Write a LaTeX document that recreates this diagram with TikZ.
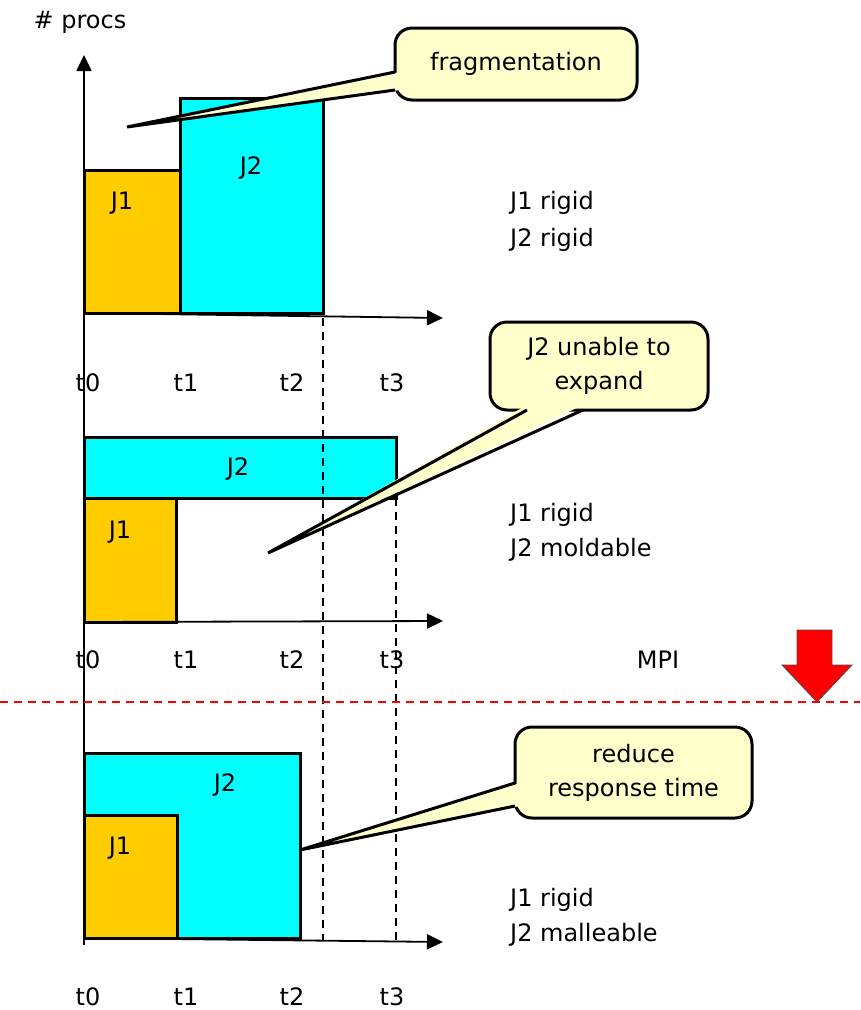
\documentclass[tikz,border=0pt]{standalone}
\usepackage{fontspec}
\setmainfont{DejaVu Sans}
\usetikzlibrary{arrows.meta,calc}
\definecolor{jone}{HTML}{FFCC00}
\definecolor{jtwo}{HTML}{00FFFF}
\definecolor{callfill}{HTML}{FFFFCC}
\begin{document}
\begin{tikzpicture}[x=1pt,y=-1pt,
  font=\fontsize{24}{34}\selectfont,
  jobA/.style={fill=jone,draw=black,line width=3pt},
  jobB/.style={fill=jtwo,draw=black,line width=3pt},
  axis/.style={line width=1.8pt,-{Triangle[length=16pt,width=15pt]}},
  guide/.style={dash pattern=on 8pt off 6pt,line width=1.8pt},
  mpiline/.style={draw=red,dash pattern=on 8pt off 6pt,line width=1.8pt},
  callbox/.style={draw=black,fill=callfill,line width=3pt,rounded corners=17pt,align=center,inner sep=0pt},
  pointer/.style={draw=black,line width=3pt,line join=miter},
  lbl/.style={inner sep=0pt},
  note/.style={anchor=west,inner sep=0pt}]
\useasboundingbox (0,0) rectangle (860,1010);

% ---------- panel 1 ----------
\draw[jobA] (84,170) rectangle (180,313);
\draw[jobB] (180,98) rectangle (323,313);
% ---------- panel 2 ----------
\draw[jobB] (84,437) rectangle (396,498);
\draw[jobA] (84,498) rectangle (176,622);
% ---------- panel 3 ----------
\draw[jobB] (84,753) rectangle (300,938);
\draw[jobA] (84,815) rectangle (177,938);

% guides
\draw[guide] (323,318) -- (323,940);
\draw[guide] (396,498) -- (396,940);

% axes
\coordinate (yb) at (84,945);
\coordinate (yt) at (84,55);
\draw[axis] (yb) -- (yt);
\coordinate (xa1) at (84,313); \coordinate (xb1) at (443,318);
\coordinate (xa2) at (84,622); \coordinate (xb2) at (443,621);
\coordinate (xa3) at (84,938); \coordinate (xb3) at (443,942);
\draw[axis] (xa1) -- (xb1);
\draw[axis] (xa2) -- (xb2);
\draw[axis] (xa3) -- (xb3);

% MPI separator
\coordinate (ml) at (0,702); \coordinate (mr) at (860,702);
\draw[mpiline] (ml) -- (mr);
\draw[fill=red,draw=black!70,line width=0.8pt] (797,630) -- (832,630) -- (832,665) -- (852,665) -- (817,702) -- (782,665) -- (797,665) -- cycle;

% ---------- callouts ----------
\node[callbox,minimum width=242pt,minimum height=72pt] (c1) at (516,64) {fragmentation};
\coordinate (t1) at (127,127);
\coordinate (a1) at (395,72); \coordinate (b1) at (395,90);
\fill[callfill] ($(a1)+(5,0)$) -- (t1) -- ($(b1)+(5,0)$) -- cycle;
\draw[pointer] (a1) -- (t1) -- (b1);

\node[callbox,minimum width=218pt,minimum height=88pt] (c2) at (599,366) {J2 unable to\\expand};
\coordinate (t2) at (268,553);
\coordinate (a2) at (527,410); \coordinate (b2) at (583,410);
\fill[callfill] ($(a2)+(0,-5)$) -- (t2) -- ($(b2)+(0,-5)$) -- cycle;
\draw[pointer] (a2) -- (t2) -- (b2);

\node[callbox,minimum width=237pt,minimum height=91pt] (c3) at (633.5,772.5) {reduce\\response time};
\coordinate (t3) at (300,850);
\coordinate (a3) at (515,783); \coordinate (b3) at (515,806);
\fill[callfill] ($(a3)+(5,0)$) -- (t3) -- ($(b3)+(5,0)$) -- cycle;
\draw[pointer] (a3) -- (t3) -- (b3);

% ---------- texts ----------
\node[lbl] (procs) at (80,22) {\# procs};
\node[lbl] (p1j1) at (122,203) {J1};
\node[lbl] (p1j2) at (251,168) {J2};
\node[lbl] (p2j1) at (120,532) {J1};
\node[lbl] (p2j2) at (238,469) {J2};
\node[lbl] (p3j1) at (120,848) {J1};
\node[lbl] (p3j2) at (225,785) {J2};

\foreach \yy/\nm in {383/a,660/b,997/c}{
  \node[lbl] (t0\nm) at (88,\yy) {t0};
  \node[lbl] (t1\nm) at (186,\yy) {t1};
  \node[lbl] (t2\nm) at (292,\yy) {t2};
  \node[lbl] (t3\nm) at (392,\yy) {t3};
}

\node[note] (n1a) at (510,203) {J1 rigid};
\node[note] (n1b) at (510,240) {J2 rigid};
\node[note] (n2a) at (510,515) {J1 rigid};
\node[note] (n2b) at (510,550) {J2 moldable};
\node[note] (n3a) at (510,900) {J1 rigid};
\node[note] (n3b) at (510,935) {J2 malleable};
\node[lbl] (mpi) at (658,660) {MPI};
\end{tikzpicture}
\end{document}
